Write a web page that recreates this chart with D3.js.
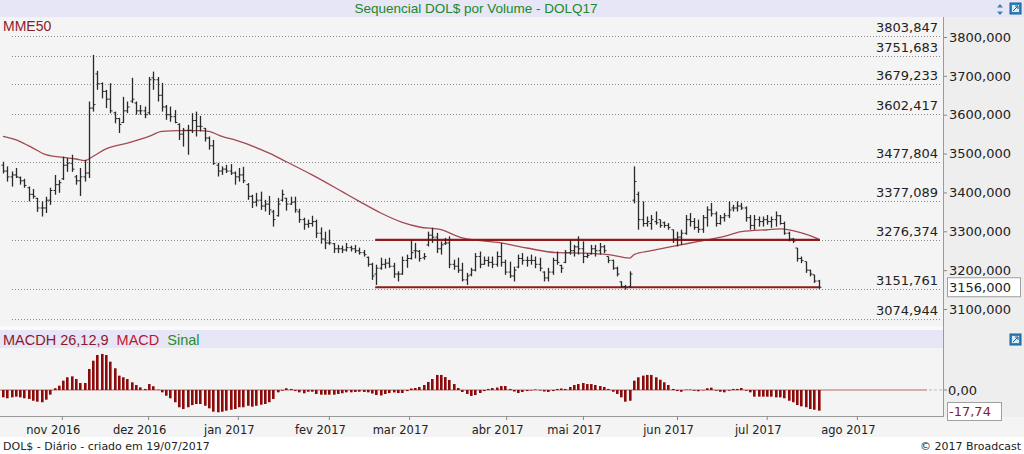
<!DOCTYPE html>
<html><head><meta charset="utf-8">
<script src="https://cdn.jsdelivr.net/npm/d3@7"></script>
<style>body{margin:0;background:#fff;overflow:hidden}svg{display:block}</style>
</head><body><svg id="c" width="1024" height="454"></svg>
<script>
// ---------------- DATA ----------------
const openV=[3470,3455,3440,3445,3438,3430,3412,3395,3385,3360,
3360,3380,3405,3420,3435,3470,3475,3440,3430,3440,
3450,3617,3705,3680,3660,3640,3605,3590,3580,3610,
3635,3630,3610,3610,3605,3695,3690,3650,3620,3600,
3595,3575,3550,3560,3560,3585,3570,3565,3540,3520,
3470,3455,3460,3455,3450,3440,3445,3420,3390,3375,
3380,3365,3370,3350,3340,3380,3385,3370,3375,3350,
3330,3318,3320,3325,3295,3280,3270,3268,3255,3255,
3252,3258,3255,3250,3245,3233,3215,3190,3205,3215,
3218,3210,3190,3190,3225,3230,3250,3248,3232,3265,
3290,3285,3255,3268,3270,3215,3210,3200,3175,3188,
3200,3235,3215,3225,3220,3215,3235,3220,3195,3185,
3208,3230,3225,3225,3225,3215,3195,3180,3195,3225,
3212,3220,3245,3250,3260,3255,3235,3242,3255,3250,
3260,3235,3225,3205,3170,3158,3158,3380,3395,3330,
3320,3320,3325,3330,3322,3315,3304,3280,3285,3295,
3330,3325,3310,3305,3335,3355,3345,3320,3335,3340,
3360,3360,3365,3360,3335,3315,3330,3325,3330,3325,
3330,3340,3320,3295,3280,3257,3230,3222,3200,3188,
3172];
const highV=[3479,3467,3454,3463,3441,3435,3415,3409,3386,3377,
3389,3412,3445,3432,3492,3489,3497,3445,3463,3484,
3634,3754,3713,3683,3664,3681,3608,3592,3646,3634,
3695,3634,3625,3621,3697,3711,3697,3682,3625,3621,
3612,3578,3566,3574,3604,3608,3597,3566,3544,3535,
3476,3467,3471,3473,3454,3463,3466,3424,3394,3399,
3402,3381,3391,3355,3386,3407,3386,3389,3389,3358,
3335,3330,3340,3330,3310,3299,3304,3270,3265,3263,
3270,3263,3265,3258,3252,3235,3219,3214,3232,3229,
3232,3219,3197,3235,3240,3278,3270,3252,3244,3299,
3309,3296,3274,3283,3287,3227,3232,3219,3193,3206,
3244,3248,3235,3235,3235,3248,3270,3227,3222,3209,
3240,3244,3235,3240,3235,3232,3197,3206,3232,3248,
3214,3252,3278,3265,3287,3274,3244,3265,3265,3270,
3265,3235,3227,3209,3171,3162,3197,3467,3402,3377,
3338,3342,3351,3330,3325,3321,3304,3299,3304,3342,
3347,3334,3330,3342,3364,3373,3351,3342,3347,3377,
3368,3377,3373,3364,3342,3342,3338,3338,3342,3338,
3351,3342,3325,3299,3283,3257,3235,3222,3201,3188,
3175];
const lowV=[3449,3428,3415,3437,3420,3412,3377,3384,3350,3338,
3347,3368,3394,3399,3432,3453,3453,3420,3391,3428,
3437,3608,3664,3642,3617,3604,3578,3553,3579,3604,
3630,3600,3600,3591,3600,3664,3634,3608,3587,3582,
3578,3535,3518,3497,3553,3544,3557,3531,3510,3471,
3441,3445,3450,3445,3420,3428,3424,3381,3360,3364,
3355,3351,3342,3312,3338,3377,3353,3368,3348,3322,
3304,3309,3312,3283,3268,3254,3265,3244,3244,3244,
3248,3248,3244,3240,3235,3209,3175,3162,3201,3204,
3206,3180,3171,3188,3206,3227,3230,3222,3227,3261,
3270,3244,3240,3265,3205,3201,3193,3171,3162,3184,
3197,3205,3214,3209,3205,3209,3209,3188,3180,3171,
3205,3214,3209,3214,3205,3197,3171,3171,3188,3214,
3193,3218,3240,3235,3240,3218,3231,3240,3235,3240,
3244,3218,3201,3184,3154,3150,3154,3372,3304,3312,
3312,3304,3317,3309,3309,3304,3270,3261,3265,3291,
3312,3304,3296,3296,3312,3338,3312,3317,3325,3334,
3351,3351,3355,3325,3304,3304,3312,3312,3317,3309,
3312,3317,3291,3274,3270,3222,3218,3193,3184,3167,
3152];
const closeV=[3455,3440,3445,3440,3430,3418,3395,3390,3360,3360,
3380,3405,3420,3425,3470,3475,3460,3430,3440,3450,
3617,3626,3680,3660,3640,3610,3590,3575,3610,3620,
3640,3610,3610,3600,3690,3690,3650,3620,3600,3595,
3580,3550,3560,3560,3585,3570,3570,3540,3520,3475,
3455,3460,3455,3450,3440,3445,3430,3390,3375,3380,
3365,3370,3355,3330,3370,3395,3370,3375,3355,3330,
3318,3320,3325,3295,3280,3270,3270,3255,3255,3252,
3258,3255,3250,3245,3240,3215,3185,3205,3215,3218,
3210,3190,3190,3225,3230,3245,3250,3230,3235,3290,
3285,3255,3265,3270,3215,3210,3200,3175,3185,3200,
3235,3215,3225,3220,3215,3235,3220,3195,3185,3200,
3230,3225,3225,3225,3215,3205,3180,3195,3225,3220,
3205,3245,3250,3260,3255,3235,3238,3255,3250,3260,
3250,3225,3205,3190,3158,3155,3190,3428,3330,3320,
3325,3330,3322,3315,3315,3310,3280,3285,3295,3330,
3325,3310,3305,3335,3355,3345,3320,3335,3340,3355,
3360,3365,3360,3335,3315,3330,3325,3330,3325,3330,
3340,3320,3295,3280,3275,3230,3225,3200,3190,3172,
3156];
const macdH=[-6.3,-7.1,-6.3,-5.7,-6.3,-7.1,-7.7,-9.2,-10.0,-10.5,
-8.3,-4.0,1.5,3.7,8.0,10.9,11.7,9.4,6.0,6.0,
18.0,25.1,30.0,30.9,30.0,24.3,18.6,12.3,10.9,9.4,
6.6,4.3,2.3,0.9,5.1,3.2,0.3,-2.0,-4.9,-7.1,
-10.5,-14.8,-16.3,-14.8,-12.9,-12.0,-12.0,-13.5,-15.7,-18.6,
-19.1,-18.6,-17.7,-16.9,-16.3,-14.8,-14.8,-13.5,-14.3,-13.5,
-12.6,-12.0,-10.5,-7.7,-2.0,-0.6,1.5,0.9,-0.9,-2.0,
-2.8,-1.5,-1.5,-3.4,-4.0,-4.0,-4.0,-4.0,-3.4,-2.8,
-2.0,-2.0,-1.7,-1.5,-1.7,-2.0,-3.0,-4.3,-4.7,-3.4,
-2.6,-2.1,-2.6,-2.6,-0.9,1.3,1.7,2.6,4.3,6.9,
9.4,12.9,12.9,11.1,8.6,5.1,1.7,-1.7,-3.4,-5.1,
-4.3,-2.6,-0.9,0.9,1.7,2.1,3.4,3.4,0.9,-1.3,
-2.6,-1.7,-0.9,-0.4,0.4,-0.4,-1.3,-1.7,-0.9,0.9,
1.3,0.9,2.6,4.3,5.1,6.0,5.1,5.1,4.3,3.4,
2.6,0.9,-1.5,-3.4,-6.3,-10.0,-9.2,8.0,10.9,12.3,
12.9,12.9,10.9,8.8,6.6,4.3,0.9,-0.9,-1.5,0.3,
0.3,-0.6,-1.1,-0.3,1.5,2.0,-0.6,-1.5,-2.0,-0.6,
0.9,0.9,1.7,-0.6,-2.0,-5.7,-5.7,-5.7,-5.7,-5.7,
-6.3,-6.3,-7.1,-9.2,-10.5,-12.9,-14.0,-14.8,-16.3,-16.9,
-17.74];
const mmeIdx=[0,4,7,10,14,17,19,21,24,29,34,37,41,46,48,51,54,62,66,72,79,83,88,93,97,102,107,116,122,129,135,141,146,147,151,156,162,168,172,178,181,186,190];
const mmeVal=[3544,3531,3514,3497,3490,3486,3482,3493,3512,3527,3544,3557,3559,3559,3557,3544,3535,3501,3479,3445,3402,3377,3347,3323,3311,3304,3283,3270,3257,3245,3244,3240,3231,3240,3250,3261,3274,3287,3299,3304,3306,3296,3280];
const levels=[3803.847,3751.683,3679.233,3602.417,3477.804,3377.089,3276.374,3151.761,3074.944];
const channelLevels=[3278,3156];
const channelRange=[86.7,190.3];
const yTicks=[3100,3200,3300,3400,3500,3600,3700,3800];
const monthIdx=[13.7,33.8,54.7,75.9,94.6,117.2,135.1,157.0,177.9,198.9];
const monthLabels=["nov 2016","dez 2016","jan 2017","fev 2017","mar 2017","abr 2017","mai 2017","jun 2017","jul 2017","ago 2017"];
const lastPrice=3156, lastMacd=-17.74;

// ---------------- DRAW ----------------
const svg=d3.select("#c");
const PR=943;
const loc=d3.formatLocale({decimal:",",thousands:".",grouping:[3],currency:["R$",""],minus:"-"});
const f3=loc.format(".3f"), f2=loc.format(".2f");
const n=closeV.length;
const x=d3.scaleLinear().domain([0,n-1]).range([3,3+(n-1)*4.293]);
const y=d3.scaleLinear().domain([3100,3800]).range([309,37]);
const ym=d3.scaleLinear().domain([lastMacd,0]).range([410.7,390]);

// backgrounds
svg.append("rect").attr("x",0).attr("y",0).attr("width",1024).attr("height",454).attr("fill","#ffffff");
svg.append("rect").attr("x",0).attr("y",17).attr("width",1024).attr("height",420).attr("fill","#f4f4f4");
svg.append("rect").attr("x",PR).attr("y",17).attr("width",1024-PR).attr("height",400).attr("fill","#eeeeee");
svg.append("rect").attr("x",0).attr("y",0).attr("width",1024).attr("height",17).attr("fill","#e6e6f6");
svg.append("rect").attr("x",0).attr("y",326).attr("width",PR).attr("height",4).attr("fill","#fafafa");
svg.append("rect").attr("x",0).attr("y",330).attr("width",PR).attr("height",18).attr("fill","#e6e6f6");

// title
svg.append("text").attr("x",476).attr("y",13).attr("text-anchor","middle")
  .attr("font-family","Liberation Sans, Arial, sans-serif").attr("font-size",13.5).attr("fill","#22862a")
  .text("Sequencial DOL$ por Volume - DOLQ17");
// icons
const ic=svg.append("g");
ic.append("path").attr("d","M1000,4 L1003,7.5 L997,7.5 Z M1000,15 L1003,11.5 L997,11.5 Z").attr("fill","#3b7fb6");
function boxIcon(gx,gy){
  ic.append("rect").attr("x",gx).attr("y",gy).attr("width",11).attr("height",11).attr("fill","#2f86c4").attr("stroke","#1d5f90");
  ic.append("rect").attr("x",gx+2).attr("y",gy+2).attr("width",7).attr("height",7).attr("fill","#d8ecf8");
  ic.append("path").attr("d",`M${gx+3},${gy+8} L${gx+8},${gy+3} M${gx+5},${gy+3} L${gx+8},${gy+3} L${gx+8},${gy+6}`).attr("stroke","#1d5f90").attr("fill","none");
}
boxIcon(1010,3); boxIcon(1010,334);

// level dotted lines + labels
const lv=svg.append("g");
levels.forEach(v=>{
  lv.append("line").attr("x1",12).attr("x2",PR-2).attr("y1",Math.round(y(v))+0.5).attr("y2",Math.round(y(v))+0.5)
    .attr("stroke","#8a8a8a").attr("stroke-dasharray","1,2");
  lv.append("text").attr("x",938).attr("y",y(v)-4).attr("text-anchor","end")
    .attr("font-family","DejaVu Sans, Verdana, sans-serif").attr("font-size",13).attr("fill","#222").text(f3(v));
});

svg.append("text").attr("x",3).attr("y",31).attr("font-family","Liberation Sans, Arial, sans-serif")
  .attr("font-size",14).attr("fill","#8b1a2b").text("MME50");

// MME50 line
const mmePts=mmeIdx.map((d,i)=>[x(d),y(mmeVal[i])]);
svg.append("path").attr("d",d3.line().curve(d3.curveMonotoneX)(mmePts)).attr("fill","none")
  .attr("stroke","#a24a50").attr("stroke-width",1.3);

// channel lines
channelLevels.forEach(v=>{
  svg.append("line").attr("x1",x(channelRange[0])).attr("x2",x(channelRange[1])).attr("y1",y(v)).attr("y2",y(v))
    .attr("stroke","#8e1a1a").attr("stroke-width",2.2);
});

// OHLC bars
const bg=svg.append("g").attr("stroke","#2a2a2a").attr("stroke-width",1.3);
d3.range(n).forEach(i=>{
  const cx=Math.round(x(i))+0.5;
  bg.append("line").attr("x1",cx).attr("x2",cx).attr("y1",y(highV[i])).attr("y2",y(lowV[i]));
  bg.append("line").attr("x1",cx-2).attr("x2",cx).attr("y1",y(openV[i])).attr("y2",y(openV[i])).attr("stroke-width",1);
  bg.append("line").attr("x1",cx).attr("x2",cx+2).attr("y1",y(closeV[i])).attr("y2",y(closeV[i])).attr("stroke-width",1);
});

// right price axis
const ax=svg.append("g").attr("transform",`translate(${PR},0)`)
  .call(d3.axisRight(y).tickValues(yTicks).tickFormat(f3).tickSize(4).tickPadding(2));
ax.select(".domain").remove();
ax.selectAll("line").attr("stroke","#888");
ax.selectAll("text").attr("font-family","DejaVu Sans, Verdana, sans-serif").attr("font-size",13).attr("fill","#222");
svg.append("line").attr("x1",PR+0.5).attr("x2",PR+0.5).attr("y1",17).attr("y2",417).attr("stroke","#9a9a9a");
// last price box
svg.append("rect").attr("x",947.5).attr("y",y(lastPrice)-9.5).attr("width",73).attr("height",19).attr("fill","#fff").attr("stroke","#a0a0a0");
svg.append("text").attr("x",949).attr("y",y(lastPrice)+4.5).attr("font-family","DejaVu Sans, Verdana, sans-serif")
  .attr("font-size",13).attr("fill","#222").text(f3(lastPrice));

// MACD header
const hdr=svg.append("text").attr("x",3).attr("y",345).attr("font-family","Liberation Sans, Arial, sans-serif").attr("font-size",14.5);
hdr.append("tspan").attr("fill","#8b1a2b").text("MACDH 26,12,9");
hdr.append("tspan").attr("fill","#c0142a").attr("dx",8).text("MACD");
hdr.append("tspan").attr("fill","#2a8a2a").attr("dx",8).text("Sinal");

// MACD histogram
svg.append("line").attr("x1",0).attr("x2",927).attr("y1",ym(0)).attr("y2",ym(0)).attr("stroke","#b36a6a").attr("stroke-width",1.2);
svg.append("line").attr("x1",929).attr("x2",PR).attr("y1",ym(0)).attr("y2",ym(0)).attr("stroke","#bbb").attr("stroke-dasharray","3,2");
svg.append("g").selectAll("rect").data(macdH).join("rect")
  .attr("x",(d,i)=>Math.round(x(i))-1).attr("width",2.6)
  .attr("y",d=>Math.min(ym(d),ym(0))).attr("height",d=>Math.abs(ym(d)-ym(0)))
  .attr("fill","#8b0a0a");
svg.append("line").attr("x1",PR).attr("x2",PR+4).attr("y1",ym(0)).attr("y2",ym(0)).attr("stroke","#888");
svg.append("text").attr("x",948).attr("y",ym(0)+5).attr("font-family","DejaVu Sans, Verdana, sans-serif")
  .attr("font-size",13).attr("fill","#222").text(f2(0));
svg.append("rect").attr("x",947.5).attr("y",402.5).attr("width",54).attr("height",18).attr("fill","#fff").attr("stroke","#a0a0a0");
svg.append("text").attr("x",949).attr("y",416).attr("font-family","DejaVu Sans, Verdana, sans-serif")
  .attr("font-size",13).attr("fill","#8b1a2b").text(f2(lastMacd));

// time axis
const tx=svg.append("g").attr("transform","translate(0,416)")
  .call(d3.axisBottom(x).tickValues(monthIdx).tickFormat((d,i)=>monthLabels[i]).tickSize(4).tickPadding(6));
tx.select(".domain").attr("d",`M0,0.5H${PR}`).attr("stroke","#9a9a9a");
tx.selectAll("line").attr("stroke","#888");
tx.selectAll("text").attr("dx",-9).attr("font-family","DejaVu Sans, Verdana, sans-serif").attr("font-size",11.5).attr("fill","#222");

// footer
svg.append("rect").attr("x",0).attr("y",437).attr("width",1024).attr("height",17).attr("fill","#fff");
svg.append("text").attr("x",3).attr("y",450).attr("font-family","DejaVu Sans, Verdana, sans-serif")
  .attr("font-size",11).attr("fill","#222").text("DOL$ - Diário - criado em 19/07/2017");
svg.append("text").attr("x",1021).attr("y",450).attr("text-anchor","end").attr("font-family","DejaVu Sans, Verdana, sans-serif")
  .attr("font-size",11).attr("fill","#222").text("© 2017 Broadcast");
</script></body></html>
